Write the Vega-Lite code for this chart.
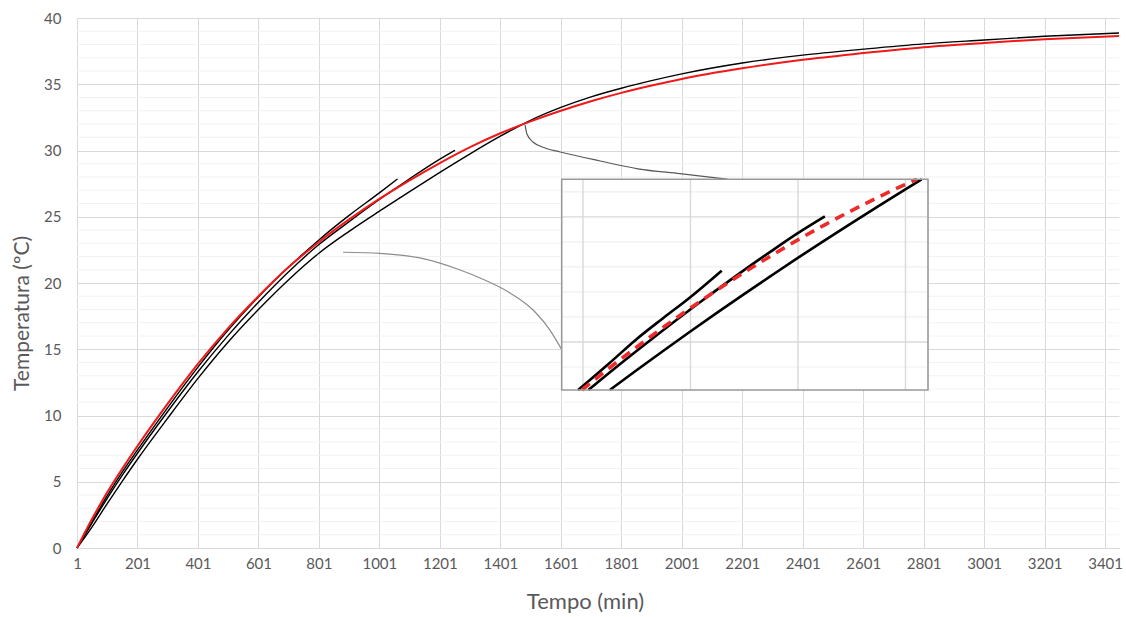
{
  "$schema": "https://vega.github.io/schema/vega-lite/v6.json",
  "width": 1042,
  "height": 530,
  "autosize": {"type": "none"},
  "padding": {"left": 77, "top": 18, "right": 7, "bottom": 69},
  "background": "#ffffff",
  "config": {"view": {"stroke": null}, "font": "Lato", "axis": {"labelFont": "Lato", "titleFont": "Lato"}},
  "datasets": {
    "curves": [
      {"s": "R", "t": 1, "T": 0}, {"s": "R", "t": 51, "T": 2.2}, {"s": "R", "t": 101, "T": 4.2}, {"s": "R", "t": 151, "T": 6.0}, {"s": "R", "t": 201, "T": 7.7}, {"s": "R", "t": 301, "T": 10.9}, {"s": "R", "t": 401, "T": 13.9}, {"s": "R", "t": 501, "T": 16.6}, {"s": "R", "t": 601, "T": 19.0}, {"s": "R", "t": 701, "T": 21.2}, {"s": "R", "t": 801, "T": 23.1}, {"s": "R", "t": 901, "T": 24.8}, {"s": "R", "t": 1001, "T": 26.35}, {"s": "R", "t": 1101, "T": 27.75}, {"s": "R", "t": 1201, "T": 29.05}, {"s": "R", "t": 1301, "T": 30.25}, {"s": "R", "t": 1401, "T": 31.3}, {"s": "R", "t": 1501, "T": 32.2}, {"s": "R", "t": 1601, "T": 33.0}, {"s": "R", "t": 1701, "T": 33.72}, {"s": "R", "t": 1801, "T": 34.35}, {"s": "R", "t": 1901, "T": 34.9}, {"s": "R", "t": 2001, "T": 35.4}, {"s": "R", "t": 2201, "T": 36.2}, {"s": "R", "t": 2401, "T": 36.85}, {"s": "R", "t": 2601, "T": 37.35}, {"s": "R", "t": 2801, "T": 37.8}, {"s": "R", "t": 3001, "T": 38.12}, {"s": "R", "t": 3201, "T": 38.4}, {"s": "R", "t": 3447, "T": 38.65},
      {"s": "B3", "t": 1, "T": 0}, {"s": "B3", "t": 51, "T": 1.6}, {"s": "B3", "t": 101, "T": 3.35}, {"s": "B3", "t": 151, "T": 5.05}, {"s": "B3", "t": 201, "T": 6.7}, {"s": "B3", "t": 301, "T": 9.8}, {"s": "B3", "t": 401, "T": 12.8}, {"s": "B3", "t": 501, "T": 15.55}, {"s": "B3", "t": 601, "T": 18.0}, {"s": "B3", "t": 701, "T": 20.25}, {"s": "B3", "t": 801, "T": 22.25}, {"s": "B3", "t": 901, "T": 23.9}, {"s": "B3", "t": 1001, "T": 25.42}, {"s": "B3", "t": 1101, "T": 26.9}, {"s": "B3", "t": 1201, "T": 28.35}, {"s": "B3", "t": 1301, "T": 29.75}, {"s": "B3", "t": 1401, "T": 31.08}, {"s": "B3", "t": 1501, "T": 32.28}, {"s": "B3", "t": 1601, "T": 33.25}, {"s": "B3", "t": 1701, "T": 34.05}, {"s": "B3", "t": 1801, "T": 34.7}, {"s": "B3", "t": 1901, "T": 35.27}, {"s": "B3", "t": 2001, "T": 35.78}, {"s": "B3", "t": 2201, "T": 36.6}, {"s": "B3", "t": 2401, "T": 37.2}, {"s": "B3", "t": 2601, "T": 37.65}, {"s": "B3", "t": 2801, "T": 38.05}, {"s": "B3", "t": 3001, "T": 38.34}, {"s": "B3", "t": 3201, "T": 38.62}, {"s": "B3", "t": 3447, "T": 38.87},
      {"s": "B1", "t": 1, "T": 0}, {"s": "B1", "t": 51, "T": 2.0}, {"s": "B1", "t": 101, "T": 3.95}, {"s": "B1", "t": 151, "T": 5.75}, {"s": "B1", "t": 201, "T": 7.4}, {"s": "B1", "t": 301, "T": 10.6}, {"s": "B1", "t": 401, "T": 13.65}, {"s": "B1", "t": 501, "T": 16.45}, {"s": "B1", "t": 601, "T": 18.95}, {"s": "B1", "t": 701, "T": 21.2}, {"s": "B1", "t": 801, "T": 23.25}, {"s": "B1", "t": 901, "T": 25.1}, {"s": "B1", "t": 1001, "T": 26.8}, {"s": "B1", "t": 1061, "T": 27.85},
      {"s": "B2", "t": 1, "T": 0}, {"s": "B2", "t": 51, "T": 1.9}, {"s": "B2", "t": 101, "T": 3.75}, {"s": "B2", "t": 151, "T": 5.5}, {"s": "B2", "t": 201, "T": 7.15}, {"s": "B2", "t": 301, "T": 10.3}, {"s": "B2", "t": 401, "T": 13.3}, {"s": "B2", "t": 501, "T": 16.05}, {"s": "B2", "t": 601, "T": 18.55}, {"s": "B2", "t": 701, "T": 20.85}, {"s": "B2", "t": 801, "T": 22.9}, {"s": "B2", "t": 901, "T": 24.63}, {"s": "B2", "t": 1001, "T": 26.3}, {"s": "B2", "t": 1101, "T": 27.87}, {"s": "B2", "t": 1201, "T": 29.35}, {"s": "B2", "t": 1251, "T": 30.02}
    ],
    "inset": [
      {"s": "B1", "t": 792, "T": 23.08}, {"s": "B1", "t": 850, "T": 24.15}, {"s": "B1", "t": 900, "T": 25.1}, {"s": "B1", "t": 950, "T": 25.95}, {"s": "B1", "t": 1000, "T": 26.78}, {"s": "B1", "t": 1059, "T": 27.85},
      {"s": "B2", "t": 811, "T": 23.08}, {"s": "B2", "t": 850, "T": 23.77}, {"s": "B2", "t": 900, "T": 24.63}, {"s": "B2", "t": 950, "T": 25.47}, {"s": "B2", "t": 1000, "T": 26.29}, {"s": "B2", "t": 1050, "T": 27.08}, {"s": "B2", "t": 1100, "T": 27.86}, {"s": "B2", "t": 1150, "T": 28.61}, {"s": "B2", "t": 1200, "T": 29.34}, {"s": "B2", "t": 1251, "T": 30.02},
      {"s": "B3", "t": 851, "T": 23.08}, {"s": "B3", "t": 900, "T": 23.86}, {"s": "B3", "t": 950, "T": 24.64}, {"s": "B3", "t": 1000, "T": 25.41}, {"s": "B3", "t": 1050, "T": 26.16}, {"s": "B3", "t": 1100, "T": 26.9}, {"s": "B3", "t": 1150, "T": 27.63}, {"s": "B3", "t": 1200, "T": 28.35}, {"s": "B3", "t": 1250, "T": 29.05}, {"s": "B3", "t": 1300, "T": 29.74}, {"s": "B3", "t": 1350, "T": 30.42}, {"s": "B3", "t": 1400, "T": 31.09}, {"s": "B3", "t": 1431, "T": 31.5},
      {"s": "R", "t": 799, "T": 23.08}, {"s": "R", "t": 850, "T": 23.96}, {"s": "R", "t": 900, "T": 24.78}, {"s": "R", "t": 950, "T": 25.58}, {"s": "R", "t": 1000, "T": 26.34}, {"s": "R", "t": 1050, "T": 27.07}, {"s": "R", "t": 1100, "T": 27.77}, {"s": "R", "t": 1150, "T": 28.43}, {"s": "R", "t": 1200, "T": 29.07}, {"s": "R", "t": 1250, "T": 29.67}, {"s": "R", "t": 1300, "T": 30.24}, {"s": "R", "t": 1350, "T": 30.78}, {"s": "R", "t": 1400, "T": 31.29}, {"s": "R", "t": 1422, "T": 31.5}
    ],
    "conn": [
      {"c": "top", "t": 1483, "T": 31.92}, {"c": "top", "t": 1489, "T": 31.25}, {"c": "top", "t": 1509, "T": 30.64}, {"c": "top", "t": 1549, "T": 30.19}, {"c": "top", "t": 1599, "T": 29.89}, {"c": "top", "t": 1731, "T": 29.21}, {"c": "top", "t": 1856, "T": 28.62}, {"c": "top", "t": 1995, "T": 28.25}, {"c": "top", "t": 2154, "T": 27.83},
      {"c": "bottom", "t": 881, "T": 22.32}, {"c": "bottom", "t": 1003, "T": 22.23}, {"c": "bottom", "t": 1135, "T": 21.89}, {"c": "bottom", "t": 1268, "T": 20.98}, {"c": "bottom", "t": 1334, "T": 20.38}, {"c": "bottom", "t": 1433, "T": 19.25}, {"c": "bottom", "t": 1516, "T": 17.81}, {"c": "bottom", "t": 1565, "T": 16.45}, {"c": "bottom", "t": 1605, "T": 14.94}
    ],
    "minorY": [{"T": 1}, {"T": 2}, {"T": 3}, {"T": 4}, {"T": 6}, {"T": 7}, {"T": 8}, {"T": 9}, {"T": 11}, {"T": 12}, {"T": 13}, {"T": 14}, {"T": 16}, {"T": 17}, {"T": 18}, {"T": 19}, {"T": 21}, {"T": 22}, {"T": 23}, {"T": 24}, {"T": 26}, {"T": 27}, {"T": 28}, {"T": 29}, {"T": 31}, {"T": 32}, {"T": 33}, {"T": 34}, {"T": 36}, {"T": 37}, {"T": 38}, {"T": 39}],
    "igx": [{"t": 801}, {"t": 1001}, {"t": 1201}, {"t": 1401}],
    "igyMinor": [{"T": 24}, {"T": 26}, {"T": 27}, {"T": 28}, {"T": 29}, {"T": 31}],
    "igyMajor": [{"T": 25}, {"T": 30}]
  },
  "layer": [
    {
      "layer": [
        {
          "data": {"name": "minorY"},
          "mark": {"type": "rule", "color": "#f2f2f2", "strokeWidth": 1},
          "encoding": {
            "y": {"field": "T", "type": "quantitative"}
          }
        },
        {
          "data": {"name": "curves"},
          "transform": [{"filter": "datum.s !== 'R'"}],
          "mark": {"type": "line", "color": "#000000", "strokeWidth": 1.4, "strokeJoin": "round", "interpolate": "monotone"},
          "encoding": {
            "x": {
              "field": "t", "type": "quantitative",
              "scale": {"domain": [1, 3447], "nice": false, "zero": false},
              "axis": {
                "values": [1, 201, 401, 601, 801, 1001, 1201, 1401, 1601, 1801, 2001, 2201, 2401, 2601, 2801, 3001, 3201, 3401],
                "format": "d",
                "grid": true, "gridColor": "#d9d9d9", "gridWidth": 1,
                "ticks": false, "domain": true, "domainColor": "#d9d9d9", "domainWidth": 1,
                "labelFlush": false, "labelOverlap": false, "labelPadding": 8, "labelFontSize": 15, "labelColor": "#595959",
                "title": "Tempo (min)", "titleFontSize": 22, "titleFontWeight": "normal", "titleColor": "#595959",
                "titleX": 508, "titleY": 53, "titleBaseline": "middle", "titleAlign": "center"
              }
            },
            "y": {
              "field": "T", "type": "quantitative",
              "scale": {"domain": [0, 40], "nice": false, "zero": true},
              "axis": {
                "values": [0, 5, 10, 15, 20, 25, 30, 35, 40],
                "grid": true, "gridColor": "#d9d9d9", "gridWidth": 1,
                "domain": false, "ticks": false, "labelFlush": false, "labelOverlap": false,
                "labelPadding": 16, "labelFontSize": 15, "labelColor": "#595959",
                "title": "Temperatura (ºC)", "titleFontSize": 21, "titleFontWeight": "normal", "titleColor": "#595959",
                "titleX": -55, "titleY": 295, "titleAngle": -90, "titleBaseline": "middle", "titleAlign": "center"
              }
            },
            "detail": {"field": "s", "type": "nominal"}
          }
        },
        {
          "data": {"name": "curves"},
          "transform": [{"filter": "datum.s === 'R'"}],
          "mark": {"type": "line", "color": "#f01818", "strokeWidth": 2, "strokeJoin": "round", "interpolate": "monotone"},
          "encoding": {
            "x": {"field": "t", "type": "quantitative"},
            "y": {"field": "T", "type": "quantitative"}
          }
        },
        {
          "data": {"name": "conn"},
          "mark": {"type": "line", "interpolate": "monotone", "strokeWidth": 1.2},
          "encoding": {
            "x": {"field": "t", "type": "quantitative"},
            "y": {"field": "T", "type": "quantitative"},
            "detail": {"field": "c", "type": "nominal"},
            "color": {"field": "c", "type": "nominal", "scale": {"domain": ["top", "bottom"], "range": ["#595959", "#8c8c8c"]}, "legend": null}
          }
        }
      ]
    },
    {
      "layer": [
        {
          "data": {"values": [{}]},
          "mark": {"type": "rect", "fill": "#ffffff", "strokeWidth": 0},
          "encoding": {
            "x": {"datum": 761.4, "type": "quantitative", "scale": {"domain": [761.4, 1442.9], "range": [484.7, 851], "nice": false, "zero": false}, "axis": null},
            "x2": {"datum": 1442.9},
            "y": {"datum": 23.08, "type": "quantitative", "scale": {"domain": [23.08, 31.5], "range": [372, 161.3], "nice": false, "zero": false}, "axis": null},
            "y2": {"datum": 31.5}
          }
        },
        {
          "data": {"name": "igyMinor"},
          "mark": {"type": "rule", "color": "#efefef", "strokeWidth": 1.2},
          "encoding": {
            "y": {"field": "T", "type": "quantitative", "axis": null},
            "x": {"datum": 761.4, "type": "quantitative", "axis": null},
            "x2": {"datum": 1442.9}
          }
        },
        {
          "data": {"name": "igyMajor"},
          "mark": {"type": "rule", "color": "#d9d9d9", "strokeWidth": 1.4},
          "encoding": {
            "y": {"field": "T", "type": "quantitative", "axis": null},
            "x": {"datum": 761.4, "type": "quantitative", "axis": null},
            "x2": {"datum": 1442.9}
          }
        },
        {
          "data": {"name": "igx"},
          "mark": {"type": "rule", "color": "#d9d9d9", "strokeWidth": 1.4},
          "encoding": {
            "x": {"field": "t", "type": "quantitative", "axis": null},
            "y": {"datum": 23.08, "type": "quantitative", "axis": null},
            "y2": {"datum": 31.5}
          }
        },
        {
          "data": {"name": "inset"},
          "transform": [{"filter": "datum.s !== 'R'"}],
          "mark": {"type": "line", "color": "#000000", "strokeWidth": 2.6, "strokeJoin": "round", "interpolate": "monotone"},
          "encoding": {
            "x": {"field": "t", "type": "quantitative", "axis": null},
            "y": {"field": "T", "type": "quantitative", "axis": null},
            "detail": {"field": "s", "type": "nominal"}
          }
        },
        {
          "data": {"name": "inset"},
          "transform": [{"filter": "datum.s === 'R'"}],
          "mark": {"type": "line", "color": "#ee2a2a", "strokeWidth": 3.6, "strokeDash": [10, 7], "strokeCap": "butt", "interpolate": "monotone"},
          "encoding": {
            "x": {"field": "t", "type": "quantitative", "axis": null},
            "y": {"field": "T", "type": "quantitative", "axis": null}
          }
        },
        {
          "data": {"values": [{}]},
          "mark": {"type": "rect", "fill": null, "fillOpacity": 0, "stroke": "#999999", "strokeWidth": 1.6},
          "encoding": {
            "x": {"datum": 761.4, "type": "quantitative", "axis": null},
            "x2": {"datum": 1442.9},
            "y": {"datum": 23.08, "type": "quantitative", "axis": null},
            "y2": {"datum": 31.5}
          }
        }
      ]
    }
  ],
  "resolve": {"scale": {"x": "independent", "y": "independent"}}
}
